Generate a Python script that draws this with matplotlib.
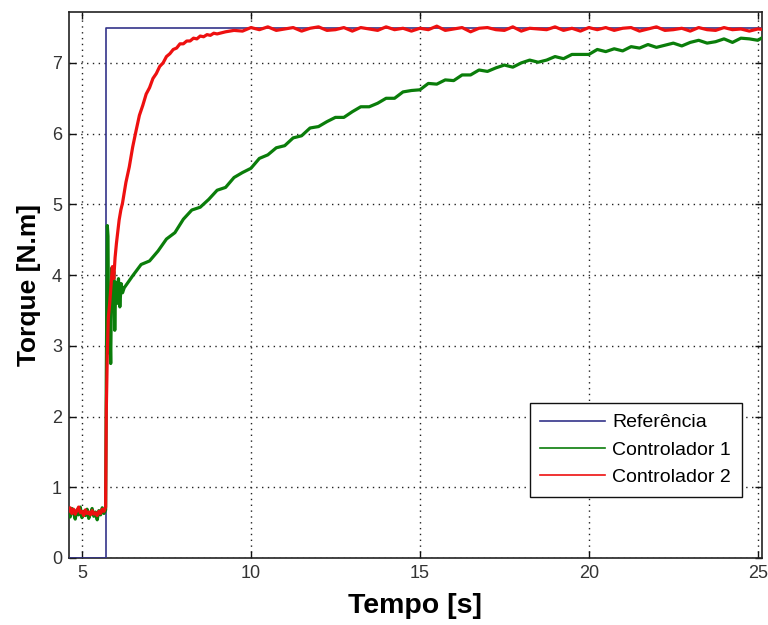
import numpy as np
import matplotlib
matplotlib.use("Agg")
import matplotlib.pyplot as plt

plt.rcParams['font.family'] = ['Liberation Sans', 'DejaVu Sans']

# Reference torque step
t_ref = [4.60, 5.71, 5.71, 25.30]
v_ref = [0.0, 0.0, 7.5, 7.5]

# Before the step (both controllers hold ~0.65 N.m)
t_pre = np.linspace(4.60, 5.70, 23)
c1_pre = [0.62, 0.58, 0.70, 0.64, 0.55, 0.68, 0.61, 0.72, 0.57, 0.66, 0.60, 0.69,
          0.56, 0.63, 0.70, 0.59, 0.65, 0.54, 0.67, 0.61, 0.71, 0.63, 0.68]
c2_pre = [0.66, 0.71, 0.63, 0.69, 0.62, 0.67, 0.72, 0.64, 0.66, 0.60, 0.68, 0.63,
          0.65, 0.61, 0.67, 0.62, 0.64, 0.60, 0.66, 0.63, 0.69, 0.66, 0.72]

# Controller 1: transient right after the step
t_c1_tr = [5.72, 5.75, 5.77, 5.79, 5.82, 5.85, 5.88, 5.91, 5.94, 5.97, 6.00, 6.04,
           6.08, 6.12, 6.16, 6.20]
c1_tr = [2.60, 4.70, 4.55, 2.90, 3.45, 2.75, 4.10, 3.55, 4.05, 3.22, 3.90, 3.60,
         3.95, 3.55, 3.88, 3.75]

# Controller 1: slow settling, sampled every 0.25 s
t_c1_slow = np.linspace(6.25, 25.25, 77)
c1_slow = [3.82, 3.99, 4.15, 4.20, 4.34, 4.51, 4.60, 4.79, 4.92, 4.96,
           5.07, 5.20, 5.24, 5.38, 5.45, 5.51, 5.65, 5.70, 5.80, 5.83,
           5.94, 5.97, 6.08, 6.10, 6.17, 6.23, 6.23, 6.31, 6.38, 6.38,
           6.43, 6.50, 6.50, 6.59, 6.61, 6.62, 6.71, 6.70, 6.76, 6.75,
           6.83, 6.83, 6.90, 6.88, 6.93, 6.97, 6.94, 7.00, 7.04, 7.01,
           7.04, 7.09, 7.06, 7.12, 7.12, 7.12, 7.19, 7.16, 7.20, 7.17,
           7.23, 7.21, 7.26, 7.22, 7.25, 7.28, 7.24, 7.29, 7.32, 7.28,
           7.30, 7.34, 7.29, 7.35, 7.34, 7.32, 7.39]

# Controller 2: transient right after the step
t_c2_tr = [5.72, 5.75, 5.78, 5.82, 5.86, 5.90, 5.94, 5.98, 6.02, 6.06, 6.10, 6.15]
c2_tr = [2.10, 2.90, 3.40, 3.60, 3.85, 4.12, 3.95, 4.25, 4.45, 4.62, 4.78, 4.92]

# Controller 2: fast rise, sampled every 0.1 s
t_c2_rise = np.linspace(6.2, 9.0, 29)
c2_rise = [5.02, 5.31, 5.53, 5.81, 6.04, 6.26, 6.40, 6.56, 6.65, 6.78,
           6.85, 6.95, 7.00, 7.09, 7.13, 7.19, 7.21, 7.27, 7.27, 7.31,
           7.31, 7.35, 7.34, 7.38, 7.37, 7.40, 7.39, 7.42, 7.41]

# Controller 2: steady state, sampled every 0.25 s
t_c2_slow = np.linspace(9.25, 25.25, 65)
c2_slow = [7.44, 7.46, 7.45,
           7.50, 7.47, 7.51, 7.46, 7.48, 7.50, 7.45, 7.49, 7.51, 7.46,
           7.47, 7.50, 7.45, 7.50, 7.48, 7.46, 7.51, 7.47, 7.49, 7.45,
           7.49, 7.47, 7.52, 7.46, 7.48, 7.50, 7.44, 7.49, 7.50, 7.47,
           7.46, 7.51, 7.45, 7.49, 7.48, 7.47, 7.51, 7.46, 7.49, 7.45,
           7.50, 7.47, 7.50, 7.46, 7.49, 7.50, 7.45, 7.48, 7.51, 7.46,
           7.47, 7.49, 7.45, 7.50, 7.47, 7.46, 7.50, 7.47, 7.48, 7.45,
           7.48, 7.47]

labels = ['Referência', 'Controlador 1', 'Controlador 2']
x_ticks = [5, 10, 15, 20, 25]
y_ticks = [0, 1, 2, 3, 4, 5, 6, 7]

t_c1 = np.concatenate([t_pre, t_c1_tr, t_c1_slow])
v_c1 = np.concatenate([c1_pre, c1_tr, c1_slow])
t_c2 = np.concatenate([t_pre, t_c2_tr, t_c2_rise, t_c2_slow])
v_c2 = np.concatenate([c2_pre, c2_tr, c2_rise, c2_slow])

fig = plt.figure(figsize=(7.68, 6.25), dpi=100)
ax = fig.add_axes([0.0898, 0.1072, 0.9022, 0.8736])

ax.plot(t_ref, v_ref, color='#33338a', lw=1.2, label=labels[0], zorder=3)
ax.plot(t_c1, v_c1, color='#0a7d0a', lw=2.3, label=labels[1], zorder=4)
ax.plot(t_c2, v_c2, color='#ee1010', lw=2.3, label=labels[2], zorder=5)

ax.set_xlim(4.615, 25.12)
ax.set_ylim(0, 7.72)
ax.set_xticks(x_ticks)
ax.set_yticks(y_ticks)

ax.grid(True, color='#222222', linestyle=(0, (1, 3.2)), linewidth=1.0)
ax.tick_params(direction='in', length=5, width=1, top=True, right=True,
               labelsize=13, colors='#111111', labelcolor='#333333', pad=5)
for s in ax.spines.values():
    s.set_linewidth(1.2)
    s.set_color('#222222')

ax.set_xlabel('Tempo [s]', fontsize=20.5, fontweight='bold', labelpad=8)
ax.set_ylabel('Torque [N.m]', fontsize=19, fontweight='bold', labelpad=8)

leg = ax.legend(loc='lower right', bbox_to_anchor=(0.971, 0.112), borderaxespad=0,
                fontsize=14, fancybox=False, framealpha=1, edgecolor='#111111',
                handlelength=3.3, handletextpad=0.4, labelspacing=0.5, borderpad=0.55)
leg.get_frame().set_linewidth(1.0)
for h in leg.get_lines():
    h.set_linewidth(1.2)

fig.savefig('out.png', dpi=100, facecolor='white')
